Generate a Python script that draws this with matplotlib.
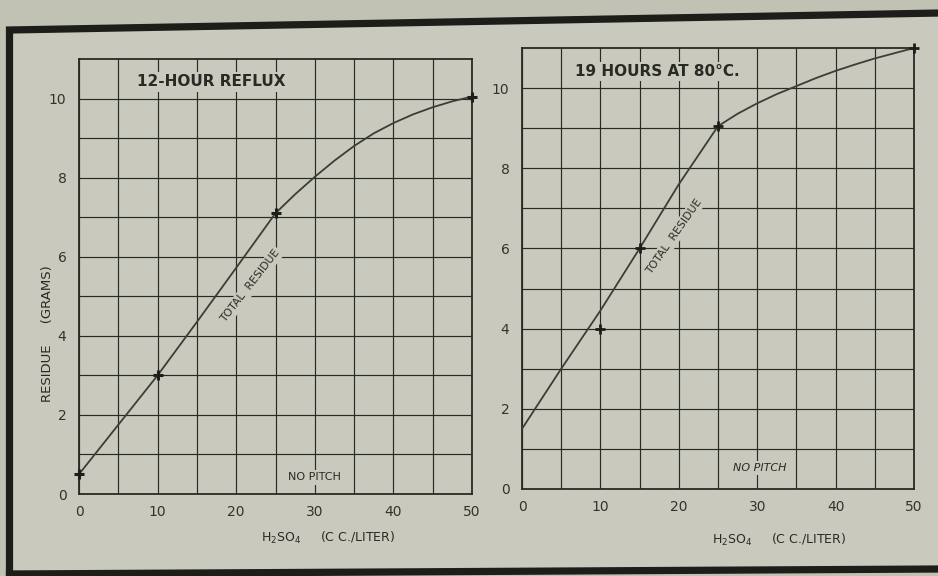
import matplotlib
matplotlib.use("Agg")
import matplotlib.pyplot as plt
from matplotlib.lines import Line2D
from matplotlib.patches import Polygon

# ---- data -------------------------------------------------------------
# 12-hour reflux: total residue (grams) vs H2SO4 (cc/liter)
reflux_x = [0, 5, 10, 15, 20, 25, 27.5, 30, 32.5, 35, 37.5, 40, 42.5, 45, 47.5, 50]
reflux_y = [0.5, 1.75, 3.0, 4.35, 5.72, 7.1, 7.58, 8.02, 8.43, 8.8, 9.12, 9.38, 9.6, 9.78, 9.93, 10.05]
reflux_pts_x = [0, 10, 25, 50]
reflux_pts_y = [0.5, 3.0, 7.1, 10.05]

# 19 hours at 80 C
hot_x = [0, 5, 10, 15, 20, 25, 27.5, 30, 32.5, 35, 37.5, 40, 42.5, 45, 47.5, 50]
hot_y = [1.5, 3.0, 4.45, 6.0, 7.6, 9.05, 9.36, 9.62, 9.85, 10.05, 10.25, 10.43, 10.59, 10.74, 10.87, 11.0]
hot_pts_x = [10, 15, 25, 50]
hot_pts_y = [4.0, 6.0, 9.05, 11.0]

x_ticks = [0, 10, 20, 30, 40, 50]
y_ticks = [0, 2, 4, 6, 8, 10]

# ---- style ------------------------------------------------------------
W, H = 938, 576
OUTER = "#c1c2b4"
PAPER = "#c9cabd"
INK = "#2a2a25"
CURVE = "#3d3d37"

fig = plt.figure(figsize=(W / 100, H / 100), dpi=100, facecolor=OUTER)


def fx(px):
    return px / W


def fy(py):
    return 1 - py / H


# paper sheet with heavy black frame
sheet = [(9.5, 30), (940, 13), (940, 569), (9.5, 574)]
fig.add_artist(Polygon([(fx(a), fy(b)) for a, b in sheet], closed=True,
                       transform=fig.transFigure, facecolor=PAPER,
                       edgecolor="none", zorder=-5))
frame = [(9.5, 580), (9.5, 30), (940, 13)]
fig.add_artist(Line2D([fx(a) for a, _ in frame], [fy(b) for _, b in frame],
                      transform=fig.transFigure, color="#1d1d19", lw=5.2,
                      solid_joinstyle="miter", zorder=-4))
fig.add_artist(Line2D([fx(9.5), fx(940)], [fy(574), fy(569)],
                      transform=fig.transFigure, color="#1d1d19", lw=5.2,
                      zorder=-4))


def setup(ax):
    ax.set_facecolor("none")
    ax.set_xlim(0, 50)
    ax.set_ylim(0, 11)
    ax.set_xticks(x_ticks)
    ax.set_xticks(range(5, 50, 10), minor=True)
    ax.set_yticks(y_ticks)
    ax.set_yticks(range(1, 11, 2), minor=True)
    ax.set_xticklabels([str(v) for v in x_ticks], fontsize=10, color="#33332d")
    ax.set_yticklabels([str(v) for v in y_ticks], fontsize=10, color="#33332d")
    ax.tick_params(which="both", length=0)
    ax.tick_params(axis="x", pad=8)
    ax.tick_params(axis="y", pad=9)
    ax.grid(True, which="both", color=INK, lw=0.85)
    for s in ax.spines.values():
        s.set_color(INK)
        s.set_linewidth(1.3)


box = dict(facecolor=PAPER, edgecolor="none", pad=1.5)

# ---- left panel: 12-hour reflux ----------------------------------------
ax1 = fig.add_axes([fx(79), fy(494), fx(472 - 79), (494 - 59) / H])
setup(ax1)
ax1.plot(reflux_x, reflux_y, color=CURVE, lw=1.3, zorder=4,
         solid_joinstyle="round")
ax1.plot(reflux_pts_x, reflux_pts_y, ls="none", marker="+", ms=7, mew=2.2,
         color="#1d1d19", zorder=5, clip_on=False)
ax1.text(16.8, 10.42, "12-HOUR REFLUX", fontsize=11, fontweight="bold",
         ha="center", va="center", color=INK, bbox=box, zorder=3)
ax1.text(21.8, 5.25, "TOTAL  RESIDUE", fontsize=7.8, rotation=52,
         ha="center", va="center", color=INK, bbox=box, zorder=3)
ax1.text(30, 0.42, "NO PITCH", fontsize=8, ha="center", va="center",
         color=INK, bbox=box, zorder=3)

fig.text(fx(47), fy(334), "RESIDUE     (GRAMS)", rotation=90, fontsize=9.5,
         ha="center", va="center", color=INK)
fig.text(fx(328), fy(538), r"H$_2$SO$_4$     (C C./LITER)", fontsize=9,
         ha="center", va="center", color=INK)

# ---- right panel: 19 hours at 80 C ------------------------------------
ax2 = fig.add_axes([fx(522), fy(489), fx(914 - 522), (489 - 48) / H])
setup(ax2)
ax2.plot(hot_x, hot_y, color=CURVE, lw=1.3, zorder=4, solid_joinstyle="round")
ax2.plot(hot_pts_x, hot_pts_y, ls="none", marker="+", ms=7, mew=2.0,
         color="#1d1d19", zorder=5, clip_on=False)
ax2.text(17.2, 10.42, "19 HOURS AT 80°C.", fontsize=11, fontweight="bold",
         ha="center", va="center", color=INK, bbox=box, zorder=3)
ax2.text(19.4, 6.3, "TOTAL  RESIDUE", fontsize=7.8, rotation=55,
         ha="center", va="center", color=INK, bbox=box, zorder=3)
ax2.text(30.3, 0.52, "NO PITCH", fontsize=8, style="italic", ha="center",
         va="center", color=INK, bbox=box, zorder=3)

fig.text(fx(779), fy(540), r"H$_2$SO$_4$     (C C./LITER)", fontsize=9,
         ha="center", va="center", color=INK)

fig.savefig("out.png", dpi=100, facecolor=OUTER)
